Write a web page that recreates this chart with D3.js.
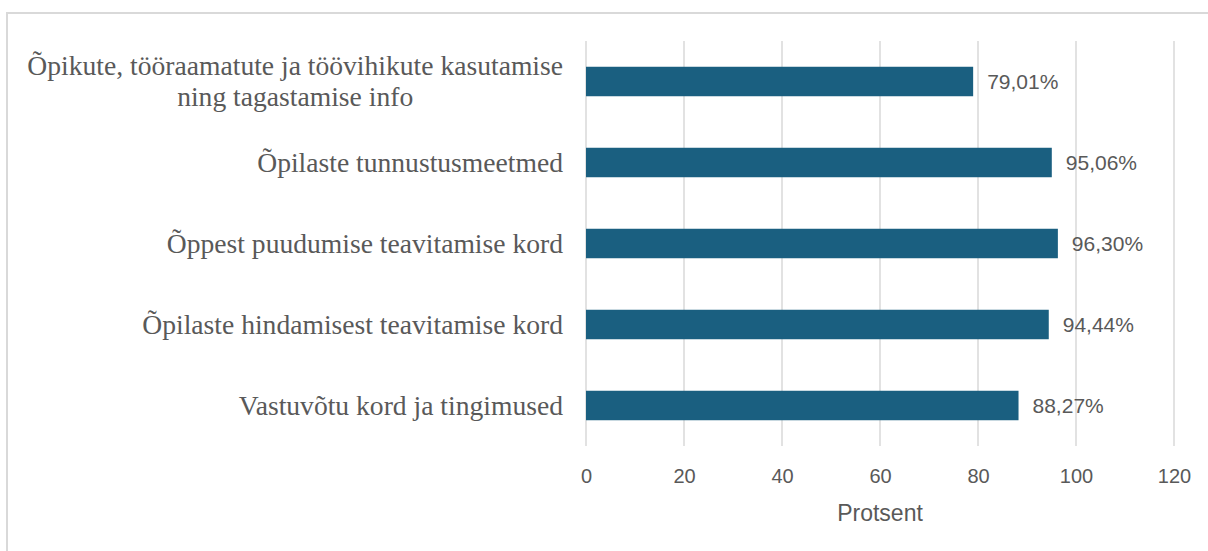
<!DOCTYPE html>
<html>
<head>
<meta charset="utf-8">
<script src="https://cdn.jsdelivr.net/npm/d3@7"></script>
<style>
  html, body { margin: 0; padding: 0; background: #fff; }
  svg { display: block; }
</style>
</head>
<body>
<svg id="chart"></svg>
<script>
const categories = [
  ['Õpikute, tööraamatute ja töövihikute kasutamise', 'ning tagastamise info'],
  ['Õpilaste tunnustusmeetmed'],
  ['Õppest puudumise teavitamise kord'],
  ['Õpilaste hindamisest teavitamise kord'],
  ['Vastuvõtu kord ja tingimused']
];
const values = [79.01, 95.06, 96.30, 94.44, 88.27];
const xTicks = [0, 20, 40, 60, 80, 100, 120];
const axisTitle = 'Protsent';

const width = 1208;
const height = 551;
const margin = { top: 41, right: 34, bottom: 105, left: 586 };

const svg = d3.select('#chart')
  .attr('width', width)
  .attr('height', height);

// chart frame (runs off the right and bottom edges)
svg.append('rect')
  .attr('x', 7)
  .attr('y', 13)
  .attr('width', width + 10)
  .attr('height', height + 10)
  .attr('fill', 'none')
  .attr('stroke', '#d9d9d9')
  .attr('stroke-width', 2);

const x = d3.scaleLinear()
  .domain([0, 120])
  .range([margin.left, width - margin.right]);

const y = d3.scaleBand()
  .domain(d3.range(categories.length))
  .range([margin.top, height - margin.bottom])
  .paddingInner(0.636)
  .paddingOuter(0.318);

// gridlines
svg.append('g')
  .selectAll('line')
  .data(xTicks)
  .enter()
  .append('line')
  .attr('x1', d => x(d))
  .attr('x2', d => x(d))
  .attr('y1', margin.top)
  .attr('y2', height - margin.bottom)
  .attr('stroke', '#d9d9d9')
  .attr('stroke-width', 1.5);

// x axis labels
const xAxis = d3.axisBottom(x)
  .tickValues(xTicks)
  .tickSize(0)
  .tickPadding(0)
  .tickFormat(d3.format('d'));

const gx = svg.append('g')
  .attr('transform', `translate(0, ${height - margin.bottom + 23})`)
  .call(xAxis);
gx.select('.domain').remove();
gx.selectAll('text')
  .attr('font-family', '"Liberation Sans", Arial, sans-serif')
  .attr('font-size', 20)
  .attr('fill', '#595959');

svg.append('text')
  .attr('x', (x(0) + x(120)) / 2)
  .attr('y', 521)
  .attr('text-anchor', 'middle')
  .attr('font-family', '"Liberation Sans", Arial, sans-serif')
  .attr('font-size', 23)
  .attr('fill', '#595959')
  .text(axisTitle);

// bars
svg.append('g')
  .selectAll('rect')
  .data(values)
  .enter()
  .append('rect')
  .attr('x', x(0))
  .attr('y', (d, i) => y(i))
  .attr('width', d => x(d) - x(0))
  .attr('height', y.bandwidth())
  .attr('fill', '#1a5f80');

// value labels
svg.append('g')
  .selectAll('text')
  .data(values)
  .enter()
  .append('text')
  .attr('x', d => x(d) + 14)
  .attr('y', (d, i) => y(i) + y.bandwidth() / 2)
  .attr('dy', '0.36em')
  .attr('font-family', '"Liberation Sans", Arial, sans-serif')
  .attr('font-size', 21)
  .attr('fill', '#595959')
  .text(d => d.toFixed(2).replace('.', ',') + '%');

// category labels, lines centred on each other, block right-aligned
const labelRight = x(0) - 23;
const lineHeight = 31;
categories.forEach((lines, i) => {
  const cy = y(i) + y.bandwidth() / 2;
  const g = svg.append('g');
  const texts = lines.map((t, j) => g.append('text')
    .attr('y', cy + (j - (lines.length - 1) / 2) * lineHeight)
    .attr('dy', '0.33em')
    .attr('text-anchor', 'middle')
    .attr('font-family', '"Liberation Serif", "Times New Roman", serif')
    .attr('font-size', 27.6)
    .attr('fill', '#595959')
    .text(t));
  const maxW = d3.max(texts, t => t.node().getComputedTextLength());
  texts.forEach(t => t.attr('x', labelRight - maxW / 2));
});
</script>
</body>
</html>
